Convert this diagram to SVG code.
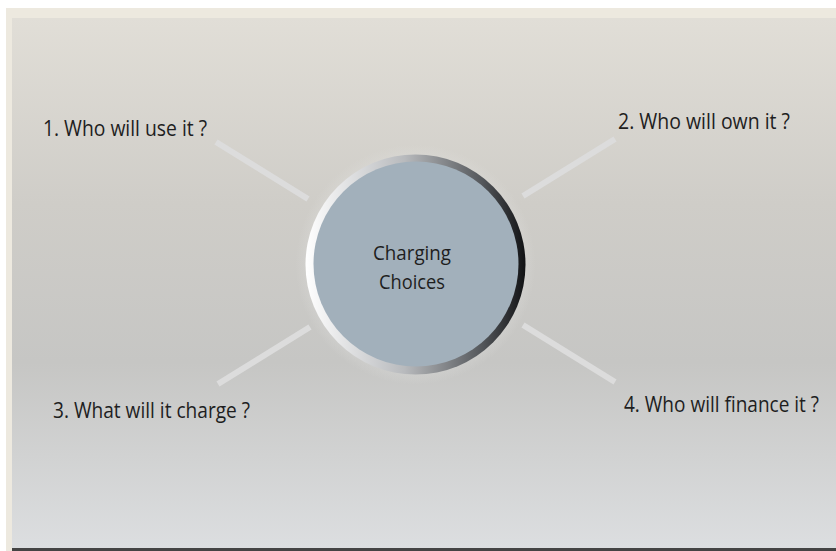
<svg xmlns="http://www.w3.org/2000/svg" width="836" height="551" viewBox="0 0 836 551">
<defs>
<linearGradient id="bg" x1="0" y1="0" x2="0" y2="1">
<stop offset="0" stop-color="#e1ded7"/>
<stop offset="0.35" stop-color="#cfcdc8"/>
<stop offset="0.65" stop-color="#c6c6c4"/>
<stop offset="1" stop-color="#dcdee0"/>
</linearGradient>
<linearGradient id="ring" x1="0" y1="0" x2="1" y2="0">
<stop offset="0" stop-color="#ffffff"/>
<stop offset="0.45" stop-color="#b8babd"/>
<stop offset="0.8" stop-color="#55585c"/>
<stop offset="1" stop-color="#111214"/>
</linearGradient>
<radialGradient id="halo" cx="0.5" cy="0.5" r="0.5">
<stop offset="0.85" stop-color="#e2e2e0" stop-opacity="0.4"/>
<stop offset="1" stop-color="#e2e2e0" stop-opacity="0"/>
</radialGradient>
</defs>
<style>
.lbl{font-family:"Open Sans","DejaVu Sans",sans-serif;font-size:22px;fill:#1e1e1e}
.ctr{font-family:"Open Sans","DejaVu Sans",sans-serif;font-size:20px;fill:#1e1e1e}
.conn{stroke:#dcdcdc;stroke-width:6;fill:none}
</style>
<rect x="0" y="0" width="836" height="551" fill="#ffffff"/>
<rect x="6" y="8" width="830" height="543" fill="#ede9df"/>
<rect x="12" y="18" width="824" height="530" fill="url(#bg)"/>
<rect x="12" y="548" width="824" height="3" fill="#444444"/>
<g id="connectors">
<line class="conn" x1="216" y1="142" x2="308" y2="199"/>
<line class="conn" x1="615" y1="139" x2="523" y2="196"/>
<line class="conn" x1="310" y1="327" x2="218" y2="384"/>
<line class="conn" x1="523" y1="325" x2="615" y2="382"/>
</g>
<g id="center">
<circle cx="415.5" cy="264.5" r="120" fill="url(#halo)"/>
<circle cx="415.5" cy="264.5" r="110" fill="url(#ring)"/>
<circle cx="416" cy="264" r="102.5" fill="#a2b0bb"/>
<text class="ctr" x="412" y="260" text-anchor="middle" textLength="78" lengthAdjust="spacingAndGlyphs">Charging</text>
<text class="ctr" x="412" y="289" text-anchor="middle" textLength="66" lengthAdjust="spacingAndGlyphs">Choices</text>
</g>
<g id="n1"><text class="lbl" x="43" y="136" textLength="164" lengthAdjust="spacingAndGlyphs">1. Who will use it ?</text></g>
<g id="n2"><text class="lbl" x="618" y="129" textLength="172" lengthAdjust="spacingAndGlyphs">2. Who will own it ?</text></g>
<g id="n3"><text class="lbl" x="53" y="418" textLength="197" lengthAdjust="spacingAndGlyphs">3. What will it charge ?</text></g>
<g id="n4"><text class="lbl" x="624" y="412" textLength="195" lengthAdjust="spacingAndGlyphs">4. Who will finance it ?</text></g>
</svg>
